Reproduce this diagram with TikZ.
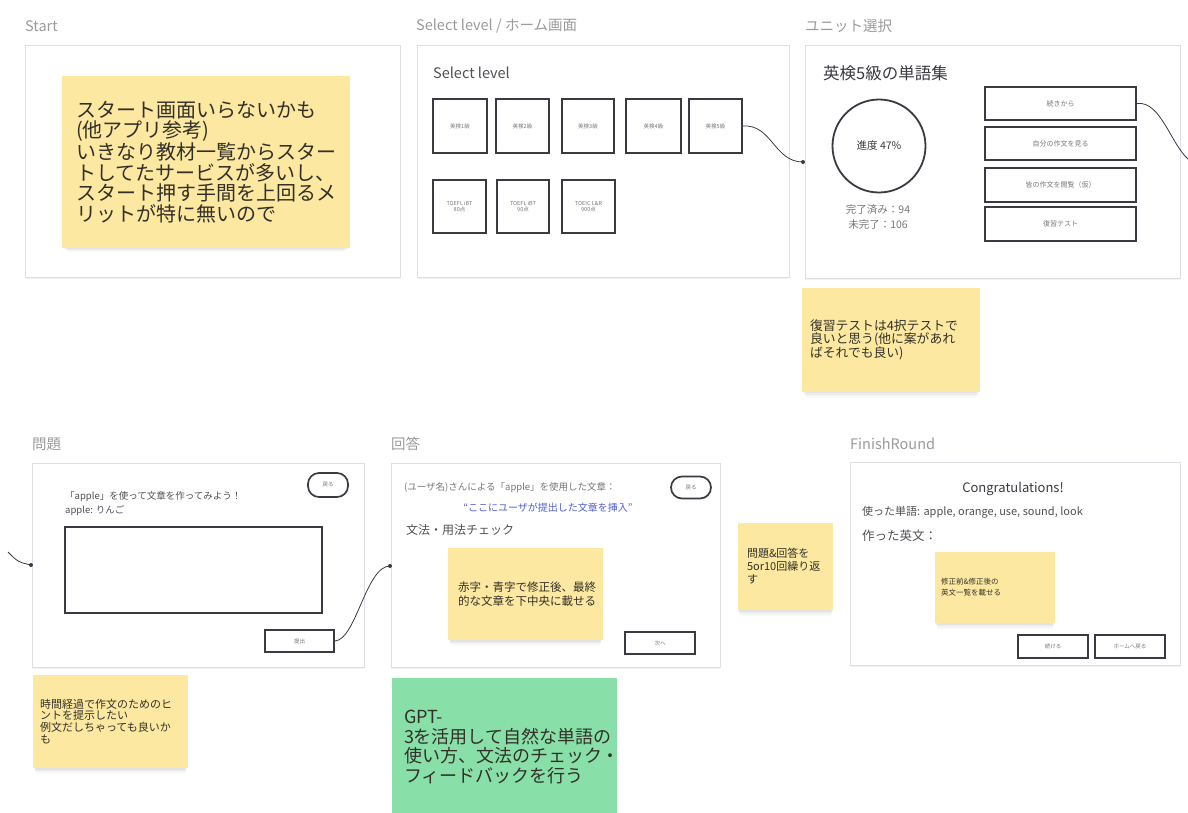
\documentclass[tikz,border=0pt]{standalone}
\usepackage{fontspec}
\setmainfont{Noto Sans CJK JP}
\usetikzlibrary{shadows}
\definecolor{stickyY}{RGB}{252,232,160}
\definecolor{stickyG}{RGB}{136,224,168}
\definecolor{frameC}{RGB}{222,223,228}
\definecolor{labelC}{RGB}{155,155,158}
\definecolor{inkC}{RGB}{58,58,66}
\definecolor{noteT}{RGB}{50,48,40}
\definecolor{tinyT}{RGB}{120,120,125}
\definecolor{blueT}{RGB}{80,95,215}
\definecolor{bodyT}{RGB}{80,80,86}
\newcommand{\myfs}[2]{\fontsize{#1}{#2}\selectfont}
\tikzset{
  screen/.style={draw=frameC, line width=0.8pt, fill=white, inner sep=0pt,
     drop shadow={shadow xshift=0pt, shadow yshift=-1.5pt, opacity=0.05, fill=black}},
  softshadow/.style={
     drop shadow={shadow xshift=0pt, shadow yshift=-2pt, opacity=0.035, fill=black, shadow scale=0.99},
     drop shadow={shadow xshift=0pt, shadow yshift=-4pt, opacity=0.03, fill=black, shadow scale=0.98},
     drop shadow={shadow xshift=0pt, shadow yshift=-6pt, opacity=0.025, fill=black, shadow scale=0.97},
     drop shadow={shadow xshift=0pt, shadow yshift=-8pt, opacity=0.02, fill=black, shadow scale=0.96}},
  note/.style={fill=stickyY, draw=none, inner sep=0pt, softshadow},
  gnote/.style={fill=stickyG, draw=none, inner sep=0pt},
  notetext/.style={text=noteT, align=left, inner sep=0pt, anchor=west},
  frametitle/.style={text=labelC, anchor=west, inner sep=0pt, font=\myfs{14.5}{17}},
  bodytext/.style={text=bodyT, anchor=west, inner sep=0pt, align=left},
  wirebox/.style={draw=inkC, line width=1.7pt, fill=white, inner sep=0pt, align=center, text=tinyT, font=\myfs{5.5}{6.5}},
  pill/.style={wirebox, rounded corners=11pt},
  wire/.style={draw=inkC, line width=0.8pt},
  dot/.style={fill=inkC, circle, inner sep=0pt, minimum size=4pt},
}
\begin{document}
\begin{tikzpicture}[x=1pt,y=-1pt]
\fill[white] (0,0) rectangle (1188,812);
\useasboundingbox (0,0) rectangle (1188,812);

% ---------- titles ----------
\node[frametitle] (tStart) at (25,26) {Start};
\node[frametitle] (tSel) at (416,26) {Select level / ホーム画面};
\node[frametitle] (tUnit) at (805,26) {ユニット選択};
\node[frametitle] (tProb) at (32,444) {問題};
\node[frametitle] (tAns) at (391,444) {回答};
\node[frametitle] (tFin) at (850,444) {FinishRound};

% ---------- frames ----------
\node[screen, minimum width=375, minimum height=232] (startF) at (212.5,161) {};
\node[screen, minimum width=372, minimum height=232] (selF) at (603,161.5) {};
\node[screen, minimum width=375, minimum height=233] (unitF) at (992.5,161.5) {};
\node[screen, minimum width=332, minimum height=204] (probF) at (198,565) {};
\node[screen, minimum width=329, minimum height=204] (ansF) at (555.5,565) {};
\node[screen, minimum width=330, minimum height=203] (finF) at (1015,564) {};

% ---------- Start ----------
\node[note, minimum width=288, minimum height=172] (startS) at (206,162) {};
\node[notetext, font=\myfs{20}{20.7}] (startT) at ([xshift=14pt]startS.west)
  {スタート画面いらないかも\\(他アプリ参考)\\いきなり教材一覧からスター\\トしてたサービスが多いし、\\スタート押す手間を上回るメ\\リットが特に無いので};

% ---------- Select level ----------
\node[bodytext, font=\myfs{14.5}{17}] (selTitle) at (433,73) {Select level};
\node[wirebox, minimum width=54, minimum height=54] (lv1) at (460,126) {英検1級};
\node[wirebox, minimum width=53, minimum height=54] (lv2) at (522.5,126) {英検2級};
\node[wirebox, minimum width=52, minimum height=54] (lv3) at (588,126) {英検3級};
\node[wirebox, minimum width=55, minimum height=54] (lv4) at (653.5,126) {英検4級};
\node[wirebox, minimum width=53, minimum height=54] (lv5) at (715.5,126) {英検5級};
\node[wirebox, minimum width=53, minimum height=53] (lv6) at (459.5,206.5) {TOEFL iBT\\80点};
\node[wirebox, minimum width=52, minimum height=53] (lv7) at (523,206.5) {TOEFL iBT\\90点};
\node[wirebox, minimum width=53, minimum height=53] (lv8) at (588.5,206.5) {TOEIC L\&R\\900点};

% ---------- Unit ----------
\node[bodytext, font=\myfs{16.5}{19}, text=inkC] (unitTitle) at (823,73) {英検5級の単語集};
\node[draw=inkC, line width=1.8pt, circle, minimum size=93, inner sep=0pt, text=inkC, font=\myfs{10.5}{12}] (prog) at (879,146) {進度 47\%};
\node[text=tinyT, align=center, inner sep=0pt, font=\myfs{10.5}{15}] (progT) at (878,217) {完了済み：94\\未完了：106};
\node[wirebox, minimum width=151, minimum height=33, font=\myfs{7}{8}] (cont) at (1060.5,103.5) {続きから};
\node[wirebox, minimum width=151, minimum height=33, font=\myfs{7}{8}] (mine) at (1060.5,143.5) {自分の作文を見る};
\node[wirebox, minimum width=151, minimum height=34, font=\myfs{7}{8}] (others) at (1060.5,185) {皆の作文を閲覧（仮）};
\node[wirebox, minimum width=151, minimum height=34, font=\myfs{7}{8}] (review) at (1060.5,224) {復習テスト};

\node[note, minimum width=178, minimum height=104] (reviewS) at (891,340) {};
\node[notetext, font=\myfs{12.8}{13.2}] (reviewT) at ([xshift=8pt]reviewS.west)
  {復習テストは4択テストで\\良いと思う(他に案があれ\\ばそれでも良い)};

% ---------- Problem ----------
\node[pill, minimum width=40, minimum height=24] (backP) at (328,485) {戻る};
\node[bodytext, font=\myfs{9.5}{14}] (probQ) at (65,504) {「apple」を使って文章を作ってみよう！\\apple: りんご};
\node[wirebox, minimum width=257, minimum height=86] (inputBox) at (193.5,570) {};
\node[wirebox, minimum width=69, minimum height=22] (submit) at (299.5,641) {提出};

\node[note, minimum width=155, minimum height=93] (leftS) at (110.5,721.5) {};
\node[notetext, font=\myfs{11}{11.8}] (leftT) at ([xshift=7pt]leftS.west)
  {時間経過で作文のためのヒ\\ントを提示したい\\例文だしちゃっても良いか\\も};

% ---------- Answer ----------
\node[pill, minimum width=40, minimum height=22] (backA) at (691,487.5) {戻る};
\node[bodytext, font=\myfs{9.5}{11}, text=tinyT] (ansHead) at (404,488) {(ユーザ名)さんによる「apple」を使用した文章：};
\node[text=blueT, inner sep=0pt, font=\myfs{10}{12}] (ansBlue) at (548,508) {“ここにユーザが提出した文章を挿入”};
\node[bodytext, font=\myfs{12}{14}] (ansCheck) at (406,530) {文法・用法チェック};
\node[note, minimum width=155, minimum height=92] (ansS) at (525.5,594) {};
\node[notetext, font=\myfs{11.5}{13.5}] (ansT) at ([xshift=10pt]ansS.west)
  {赤字・青字で修正後、最終\\的な文章を下中央に載せる};
\node[wirebox, minimum width=70, minimum height=22] (next) at (660,643) {次へ};

\node[gnote, minimum width=225, minimum height=138] (gptS) at (504.5,747) {};
\node[notetext, font=\myfs{18}{19.4}, text=noteT] (gptT) at ([xshift=12pt]gptS.west)
  {GPT-\\3を活用して自然な単語の\\使い方、文法のチェック・\\フィードバックを行う};

% ---------- Repeat note ----------
\node[note, minimum width=95, minimum height=87] (midS) at (785.5,566.5) {};
\node[notetext, font=\myfs{11}{13}] (midT) at ([xshift=9pt]midS.west)
  {問題\&回答を\\5or10回繰り返\\す};

% ---------- Finish ----------
\node[text=inkC, inner sep=0pt, font=\myfs{13}{15}] (congr) at (1013,489) {Congratulations!};
\node[bodytext, font=\myfs{11}{13}] (used) at (862,512) {使った単語: apple, orange, use, sound, look};
\node[bodytext, font=\myfs{12.5}{14}] (made) at (862,536) {作った英文：};
\node[note, minimum width=120, minimum height=71] (finS) at (995,587.5) {};
\node[notetext, font=\myfs{7.5}{11}] (finT) at ([xshift=6pt]finS.west)
  {修正前\&修正後の\\英文一覧を載せる};
\node[wirebox, minimum width=70, minimum height=23] (contBtn) at (1053,646.5) {続ける};
\node[wirebox, minimum width=70, minimum height=23] (homeBtn) at (1130,646.5) {ホームへ戻る};

% ---------- connectors ----------
\coordinate (unitIn) at (803,162);
\coordinate (offR) at (1192,162);
\coordinate (offL) at (8,552);
\coordinate (probIn) at (31,565);
\coordinate (ansIn) at (390,566);
\draw[wire] (lv5.east) .. controls (772,124) and (774,162) .. (unitIn);
\draw[wire] (cont.east) .. controls (1162,100) and (1172,150) .. (offR);
\draw[wire] (offL) .. controls (18,562) .. (probIn);
\draw[wire] (submit.east) .. controls (356,640) and (366,566) .. (ansIn);
\node[dot] (d1) at (unitIn) {};
\node[dot] (d2) at (probIn) {};
\node[dot] (d3) at (ansIn) {};
\end{tikzpicture}
\end{document}
